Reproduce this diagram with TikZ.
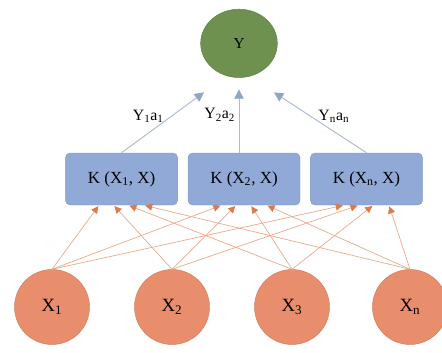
\documentclass[tikz,border=0pt]{standalone}
\usepackage{fontspec}
\setmainfont{Liberation Serif}
\usetikzlibrary{arrows.meta,calc,positioning,shapes.geometric}
\definecolor{kernBlue}{HTML}{91A9D6}
\definecolor{kernEdge}{HTML}{7F97C4}
\definecolor{inOrange}{HTML}{E88E6C}
\definecolor{inEdge}{HTML}{D27A5A}
\definecolor{outGreen}{HTML}{6E9150}
\definecolor{outEdge}{HTML}{5C7D42}
\definecolor{wireOrange}{HTML}{E9A98C}
\definecolor{tipOrange}{HTML}{DC7A4E}
\definecolor{wireBlue}{HTML}{A9BBD0}
\definecolor{tipBlue}{HTML}{8FA7C2}

\begin{document}
\begin{tikzpicture}[
    node distance=2.25cm and 0.3cm,
    kern/.style={draw=kernEdge,rounded corners=4pt,fill=kernBlue,
      minimum width=3.36cm,minimum height=1.56cm,font=\fontsize{14.5}{16}\selectfont},
    inp/.style={circle,draw=inEdge,fill=inOrange,minimum size=2.25cm,inner sep=0pt,
      font=\fontsize{16}{18}\selectfont},
    outp/.style={ellipse,draw=outEdge,fill=outGreen,minimum width=2.3cm,
      minimum height=2.05cm,font=\fontsize{13}{15}\selectfont},
    wire/.style={draw=wireOrange,semithick,shorten >=1pt,
      -{Triangle[length=6pt,width=6pt,color=tipOrange]}},
    sum/.style={draw=wireBlue,thick,-{Triangle[length=8pt,width=8pt,color=tipBlue]}},
    lab/.style={font=\fontsize{13.5}{15}\selectfont,inner sep=2pt}]
    \useasboundingbox (-7.32,-5.19) rectangle (5.94,5.37);
    \node[kern] (k2) {K (X\textsubscript{2}, X)};
    \node[kern,left=of k2] (k1) {K (X\textsubscript{1}, X)};
    \node[kern,right=of k2] (kn) {K (X\textsubscript{n}, X)};
    \node[outp,above=of k2,xshift=-0.15cm] (y) {Y};
    \node[inp] (x1) at (-5.76,-3.84) {X\textsubscript{1}};
    \node[inp] (x2) at (-2.16,-3.84) {X\textsubscript{2}};
    \node[inp] (x3) at (1.44,-3.84) {X\textsubscript{3}};
    \node[inp] (xn) at (4.98,-3.84) {X\textsubscript{n}};
    % inputs to kernels
    \foreach \i/\f in {1/0.3,2/0.43,3/0.56,n/0.7}
      \foreach \k in {1,2,n}
        \draw[wire] (x\i.north) -- ($(k\k.south west)!\f!(k\k.south east)$);
    % kernels to output
    \draw[sum] (k1.north) -- node[lab,pos=0.6,left=4pt]{Y\textsubscript{1}a\textsubscript{1}}
      ([shift={(-1.05,-1.47)}]y.center);
    \draw[sum] (y.center |- k2.north) -- node[lab,pos=0.6,left=1pt]{Y\textsubscript{2}a\textsubscript{2}}
      ([shift={(0,-1.38)}]y.center);
    \draw[sum] (kn.north) -- node[lab,pos=0.6,right=4pt]{Y\textsubscript{n}a\textsubscript{n}}
      ([shift={(1.05,-1.47)}]y.center);
  \end{tikzpicture}
\end{document}
